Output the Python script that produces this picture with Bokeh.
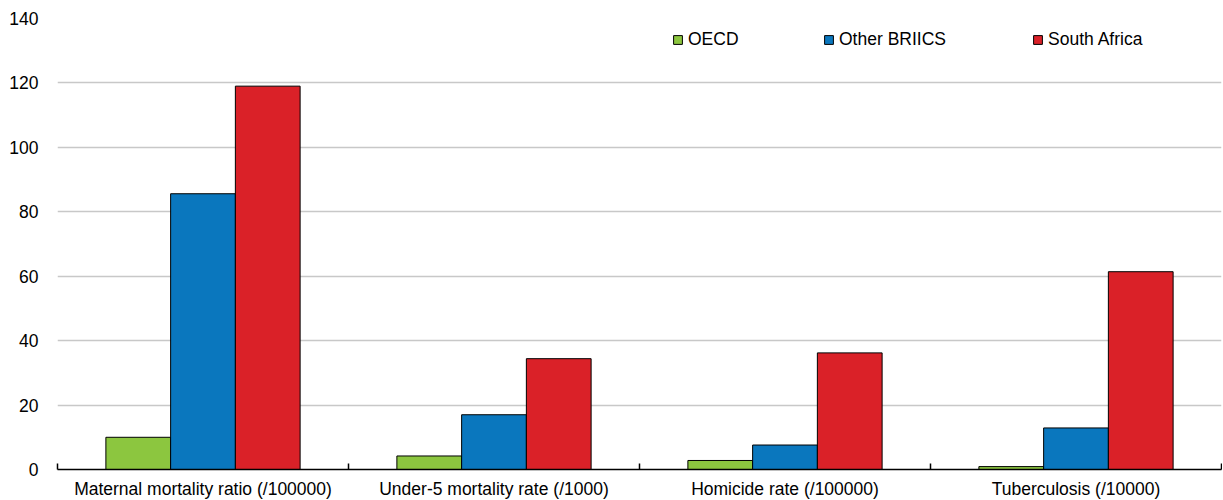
import numpy as np
from bokeh.plotting import figure
from bokeh.models import Range1d, FixedTicker, Legend, LegendItem
from bokeh.embed import file_html
from bokeh.resources import INLINE

categories = ["Maternal mortality ratio (/100000)", "Under-5 mortality rate (/1000)",
              "Homicide rate (/100000)", "Tuberculosis (/10000)"]
series_names = ["OECD", "Other BRIICS", "South Africa"]
oecd = [10.0, 4.2, 2.8, 0.9]
other_briics = [85.6, 17.0, 7.6, 12.9]
south_africa = [119.0, 34.4, 36.2, 61.4]
y_ticks = [0, 20, 40, 60, 80, 100, 120, 140]

colors = ["#8CC63F", "#0A77BE", "#DA2128"]
FONT = "Liberation Sans"
FS = "17.5px"

p = figure(frame_width=1164, frame_height=451, output_backend="svg", toolbar_location=None,
           x_range=Range1d(0, len(categories)), y_range=Range1d(0, 140),
           min_border_left=57, min_border_right=1, min_border_top=18, min_border_bottom=22)
p.outline_line_color = None
p.xgrid.grid_line_color = None
p.ygrid.grid_line_color = "#C8C8C8"
p.ygrid.grid_line_width = 1.5

centers = np.arange(len(categories)) + 0.5
bw = 0.2225
offsets = [-bw, 0.0, bw]
renderers = []
for vals, off, col in zip([oecd, other_briics, south_africa], offsets, colors):
    r = p.vbar(x=centers + off, top=vals, width=bw, fill_color=col,
               line_color="black", line_width=1)
    renderers.append(r)

xa = p.xaxis[0]
xa.ticker = FixedTicker(ticks=list(centers), minor_ticks=list(range(len(categories) + 1)))
xa.major_label_overrides = {float(c): lab for c, lab in zip(centers, categories)}
xa.major_tick_line_color = None
xa.minor_tick_in = 6
xa.minor_tick_out = 0
xa.minor_tick_line_color = "black"
xa.minor_tick_line_width = 1.5
xa.axis_line_color = "black"
xa.axis_line_width = 1.5
xa.major_label_standoff = 3
xa.major_label_text_font = FONT
xa.major_label_text_font_size = FS
xa.major_label_text_color = "black"

ya = p.yaxis[0]
ya.ticker = FixedTicker(ticks=y_ticks)
ya.axis_line_color = None
ya.major_tick_line_color = None
ya.minor_tick_line_color = None
ya.major_tick_in = 0
ya.major_tick_out = 0
ya.major_label_standoff = 19
ya.major_label_text_font = FONT
ya.major_label_text_font_size = FS
ya.major_label_text_color = "black"

leg_x = [615, 766, 975]
for name, r, lx in zip(series_names, renderers, leg_x):
    leg = Legend(items=[LegendItem(label=name, renderers=[r])], location=(lx, 419),
                 orientation="horizontal", padding=0, margin=0, spacing=0,
                 border_line_color=None, background_fill_alpha=0,
                 glyph_width=11, glyph_height=11, label_standoff=5, label_height=22,
                 label_text_font=FONT, label_text_font_size=FS, label_text_color="black")
    p.add_layout(leg)

open("out.html", "w").write(file_html(p, INLINE))
